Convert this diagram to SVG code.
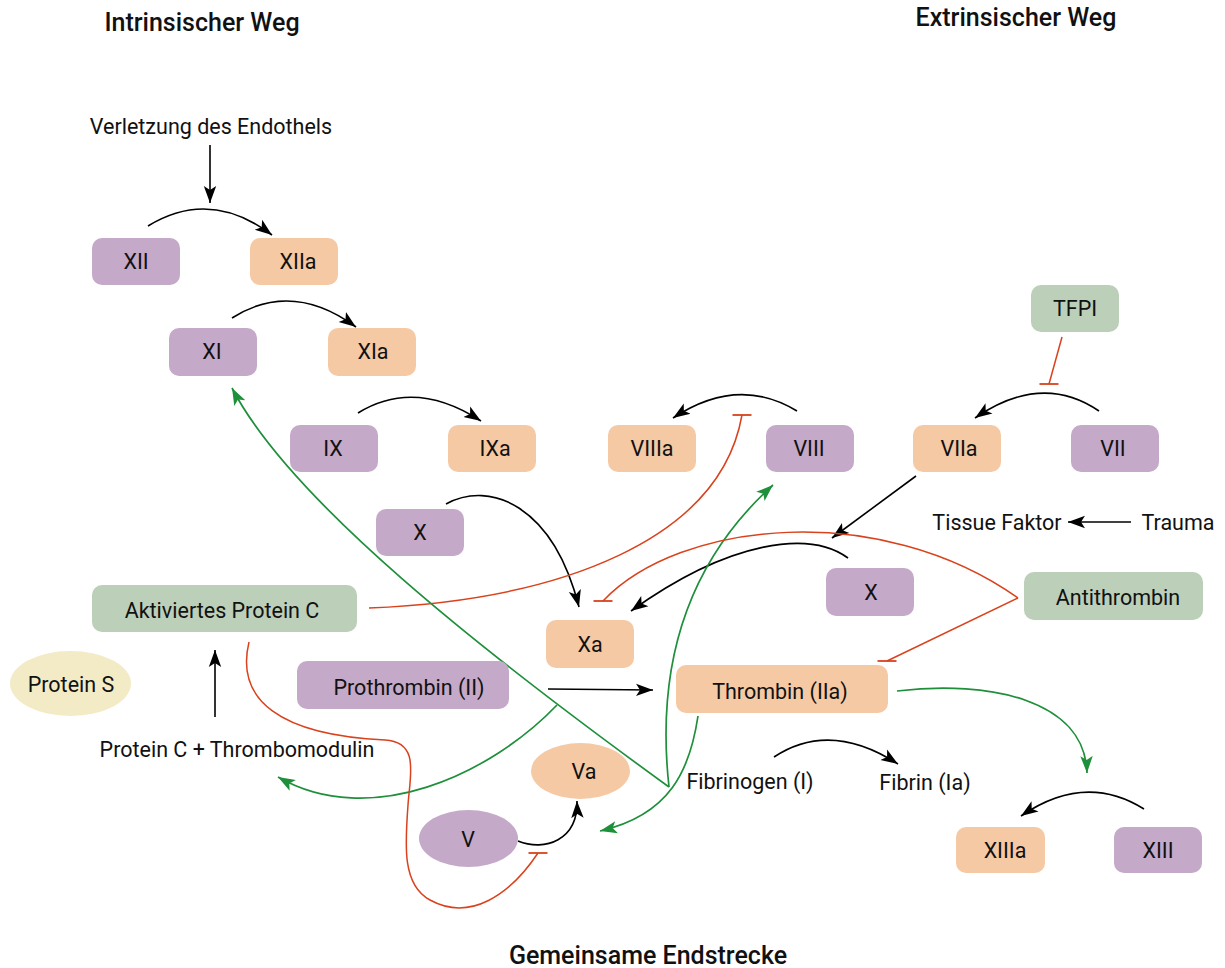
<svg xmlns="http://www.w3.org/2000/svg" width="1225" height="968" viewBox="0 0 1225 968">
<style>
text{font-family:Roboto,"Liberation Sans",sans-serif;font-size:21.5px;fill:#111;text-anchor:middle}
.title{font-size:25px;font-weight:500}
.p{fill:#C5A9C9}
.o{fill:#F5C9A4}
.g{fill:#BCCFB9}
.y{fill:#F3EBC6}
.k{fill:none;stroke:#000;stroke-width:1.6;marker-end:url(#ak)}
.gr{fill:none;stroke:#1E8F3A;stroke-width:1.7;marker-end:url(#ag)}
.r{fill:none;stroke:#D9421C;stroke-width:1.5;marker-end:url(#tb)}
</style>
<defs>
<marker id="ak" markerUnits="userSpaceOnUse" markerWidth="18" markerHeight="14" viewBox="0 0 18 14" refX="17" refY="7" orient="auto"><path d="M0,0.8 L17,7 L0,13.2 L4,7 z" fill="#000"/></marker>
<marker id="ag" markerUnits="userSpaceOnUse" markerWidth="18" markerHeight="14" viewBox="0 0 18 14" refX="17" refY="7" orient="auto"><path d="M0,0.8 L17,7 L0,13.2 L4,7 z" fill="#1E8F3A"/></marker>
<marker id="tb" markerUnits="userSpaceOnUse" markerWidth="22" markerHeight="4" viewBox="-11 -2 22 4" refX="0" refY="0" orient="0"><line x1="-9.5" y1="0" x2="9.5" y2="0" stroke="#D9421C" stroke-width="1.8"/></marker>
</defs>

<g id="titles">
<text class="title" x="202" y="31">Intrinsischer Weg</text>
<text class="title" x="1016" y="26">Extrinsischer Weg</text>
<text class="title" x="648" y="964">Gemeinsame Endstrecke</text>
</g>

<g id="connectors">
<path class="k" d="M210,145 L210,203"/>
<path class="k" d="M148,226 Q210,188 272,235"/>
<path class="k" d="M232,318 Q292,280 356,327"/>
<path class="k" d="M358,413 Q415,378 481,421"/>
<path class="k" d="M797,411 Q738,375 673,418"/>
<path class="k" d="M1099,411 Q1042,372 975,418"/>
<path class="k" d="M916,476 L832,538"/>
<path class="k" d="M1131,522 L1068,522"/>
<path class="k" d="M848,558 C810,530 730,540 631,611"/>
<path class="k" d="M446,504 C490,480 553,505 579,607"/>
<path class="k" d="M548,689 L653,690"/>
<path class="k" d="M774,757 Q830,720 898,764"/>
<path class="k" d="M1144,809 Q1085,772 1021,816"/>
<path class="k" d="M518,841 C545,852 578,840 577,801"/>
<path class="k" d="M215,717 L215,650"/>

<path class="gr" d="M897,691 C990,680 1085,700 1087,773"/>
<path class="gr" d="M698,716 C690,770 670,815 600,831"/>
<path class="gr" d="M669,787 C655,660 690,560 773,485"/>
<path class="gr" d="M669,787 C480,650 290,500 232,388"/>
<path class="gr" d="M557,705 C490,775 370,830 278,777"/>

<path class="r" d="M369,608 C560,600 720,540 742,415"/>
<path class="r" d="M1018,598 C880,500 680,520 603,601"/>
<path class="r" d="M1018,598 L887,661"/>
<path class="r" d="M249,642 C235,700 280,735 385,740 C420,742 410,775 408,805 C405,845 402,885 430,900 C470,922 510,895 538,853"/>
<path class="r" d="M1062,337 L1049,384"/>
</g>

<g id="n-XII"><rect class="p" x="92" y="238" width="88" height="47" rx="10"/><text x="136" y="269">XII</text></g>
<g id="n-XIIa"><rect class="o" x="250" y="238" width="88" height="47" rx="10"/><text x="298" y="269">XIIa</text></g>
<g id="n-XI"><rect class="p" x="169" y="328" width="88" height="48" rx="10"/><text x="212" y="359">XI</text></g>
<g id="n-XIa"><rect class="o" x="328" y="328" width="88" height="48" rx="10"/><text x="373" y="359">XIa</text></g>
<g id="n-IX"><rect class="p" x="290" y="425" width="88" height="47" rx="10"/><text x="333" y="456">IX</text></g>
<g id="n-IXa"><rect class="o" x="448" y="425" width="88" height="47" rx="10"/><text x="495" y="456">IXa</text></g>
<g id="n-VIIIa"><rect class="o" x="608" y="425" width="88" height="47" rx="10"/><text x="652" y="456">VIIIa</text></g>
<g id="n-VIII"><rect class="p" x="766" y="425" width="88" height="47" rx="10"/><text x="809" y="456">VIII</text></g>
<g id="n-VIIa"><rect class="o" x="913" y="425" width="88" height="47" rx="10"/><text x="959" y="456">VIIa</text></g>
<g id="n-VII"><rect class="p" x="1071" y="425" width="88" height="47" rx="10"/><text x="1113" y="456">VII</text></g>
<g id="n-TFPI"><rect class="g" x="1031" y="285" width="88" height="47" rx="10"/><text x="1075" y="316">TFPI</text></g>
<g id="n-X1"><rect class="p" x="376" y="509" width="88" height="47" rx="10"/><text x="420" y="540">X</text></g>
<g id="n-X2"><rect class="p" x="826" y="568" width="88" height="48" rx="10"/><text x="871" y="600">X</text></g>
<g id="n-Xa"><rect class="o" x="546" y="620" width="88" height="48" rx="10"/><text x="590" y="652">Xa</text></g>
<g id="n-Thrombin"><rect class="o" x="676" y="665" width="212" height="48" rx="10"/><text x="780" y="699">Thrombin (IIa)</text></g>
<g id="n-Prothrombin"><rect class="p" x="297" y="661" width="212" height="48" rx="10"/><text x="409" y="695">Prothrombin (II)</text></g>
<g id="n-Antithrombin"><rect class="g" x="1024" y="572" width="179" height="48" rx="10"/><text x="1118" y="605">Antithrombin</text></g>
<g id="n-APC"><rect class="g" x="92" y="585" width="265" height="47" rx="10"/><text x="222" y="618">Aktiviertes Protein C</text></g>
<g id="n-ProteinS"><ellipse class="y" cx="70.5" cy="683.5" rx="60.5" ry="32.5"/><text x="71" y="692">Protein S</text></g>
<g id="n-Va"><ellipse class="o" cx="580.5" cy="771" rx="49.5" ry="28"/><text x="584" y="779">Va</text></g>
<g id="n-V"><ellipse class="p" cx="468.5" cy="838.5" rx="49.5" ry="28.5"/><text x="468" y="847">V</text></g>
<g id="n-XIIIa"><rect class="o" x="956" y="827" width="89" height="46" rx="10"/><text x="1005" y="858">XIIIa</text></g>
<g id="n-XIII"><rect class="p" x="1114" y="827" width="88" height="46" rx="10"/><text x="1158" y="858">XIII</text></g>

<g id="labels">
<text x="211" y="134">Verletzung des Endothels</text>
<text x="237" y="757">Protein C + Thrombomodulin</text>
<text x="997" y="530">Tissue Faktor</text>
<text x="1178" y="530">Trauma</text>
<text x="750" y="789">Fibrinogen (I)</text>
<text x="925" y="790">Fibrin (Ia)</text>
</g>
</svg>
